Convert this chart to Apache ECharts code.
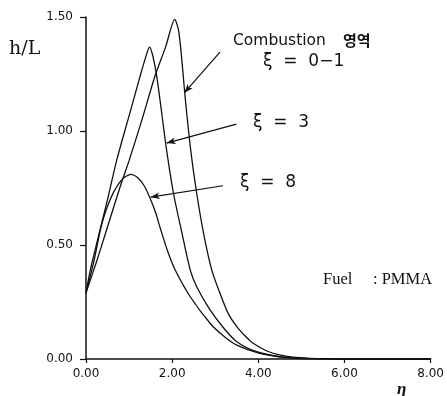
<!DOCTYPE html>
<html>
<head>
<meta charset="utf-8">
<script src="https://cdn.jsdelivr.net/npm/echarts@6/dist/echarts.min.js"></script>
<style>html,body{margin:0;padding:0;background:#fff}#c{width:447px;height:396px}</style>
</head>
<body>
<div id="c"></div>
<script>
// ---- data (eta, h/L) ----
const xTickLabels = ['0.00', '2.00', '4.00', '6.00', '8.00'];
const yTickLabels = ['0.00', '0.50', '1.00', '1.50'];

const eta01 = [0, 0.25, 0.5, 0.8, 1.0, 1.3, 1.6, 1.85, 2.06, 2.15, 2.23, 2.30, 2.43, 2.57, 2.73, 2.92, 3.11, 3.3, 3.5, 3.7, 3.88, 4.2, 4.49, 4.8, 5.2, 5.6, 6.0, 7.0, 8.0];
const hL01  = [0.29, 0.43, 0.58, 0.76, 0.87, 1.05, 1.24, 1.37, 1.49, 1.44, 1.30, 1.15, 0.917, 0.727, 0.55, 0.39, 0.288, 0.20, 0.142, 0.10, 0.069, 0.035, 0.018, 0.008, 0.003, 0.001, 0, 0, 0];

const eta3 = [0, 0.1, 0.24, 0.5, 0.71, 0.9, 1.05, 1.27, 1.42, 1.475, 1.55, 1.65, 1.75, 1.87, 2.03, 2.23, 2.42, 2.57, 2.88, 3.2, 3.5, 3.96, 4.5, 5.0, 5.6, 6.0, 7.0, 8.0];
const hL3  = [0.29, 0.39, 0.50, 0.70, 0.87, 1.00, 1.10, 1.25, 1.345, 1.368, 1.33, 1.23, 1.09, 0.917, 0.727, 0.55, 0.39, 0.317, 0.215, 0.135, 0.076, 0.032, 0.010, 0.003, 0.001, 0, 0, 0];

const eta8 = [0, 0.19, 0.35, 0.5, 0.65, 0.85, 1.04, 1.2, 1.35, 1.5, 1.62, 1.73, 1.9, 2.07, 2.42, 2.88, 3.2, 3.5, 4.03, 4.7, 5.3, 6.0, 7.0, 8.0];
const hL8  = [0.29, 0.434, 0.58, 0.67, 0.735, 0.79, 0.81, 0.795, 0.76, 0.70, 0.64, 0.57, 0.47, 0.39, 0.273, 0.157, 0.10, 0.061, 0.025, 0.005, 0.001, 0, 0, 0];

// leader arrows (data coordinates): [fromX, fromY, toX, toY]
const arrow01 = [3.11, 1.346, 2.28, 1.167];
const arrow3  = [3.49, 1.03, 1.87, 0.947];
const arrow8  = [3.18, 0.76, 1.50, 0.71];

function pairs(xs, ys) { return xs.map((x, i) => [x, ys[i]]); }

const chart = echarts.init(document.getElementById('c'), null, {renderer: 'canvas'});

const lineStyle = {color: '#111', width: 1.3};
function curve(name, xs, ys, extra) {
  return Object.assign({
    name: name, type: 'line', data: pairs(xs, ys),
    showSymbol: false, smooth: 0.25,
    lineStyle: lineStyle, silent: true, z: 3
  }, extra || {});
}
function arrowLine(a) {
  return [{coord: [a[0], a[1]], symbol: 'none'}, {coord: [a[2], a[3]], symbol: 'arrow', symbolSize: [5, 9]}];
}

chart.setOption({
  animation: false,
  backgroundColor: '#fff',
  grid: {left: 86, right: 14, top: 17, bottom: 37, containLabel: false},
  xAxis: {
    type: 'value', min: 0, max: 8, interval: 2,
    axisLine: {show: true, lineStyle: {color: '#111', width: 1.5}},
    axisTick: {show: true, length: 4, inside: false, lineStyle: {color: '#111', width: 1.2}},
    axisLabel: {margin: 9, color: '#111', fontFamily: 'DejaVu Sans', fontSize: 12,
      formatter: v => xTickLabels[Math.round(v / 2)]},
    splitLine: {show: false}
  },
  yAxis: {
    type: 'value', min: 0, max: 1.5, interval: 0.5,
    axisLine: {show: true, lineStyle: {color: '#111', width: 1.5}},
    axisTick: {show: true, length: 6, inside: false, lineStyle: {color: '#111', width: 1.2}},
    axisLabel: {margin: 13, color: '#111', fontFamily: 'DejaVu Sans', fontSize: 12,
      formatter: v => yTickLabels[Math.round(v / 0.5)]},
    splitLine: {show: false}
  },
  series: [
    curve('ξ = 0-1', eta01, hL01, {
      markLine: {silent: true, animation: false, label: {show: false},
        lineStyle: {color: '#111', width: 1.2, type: 'solid'},
        data: [arrowLine(arrow01), arrowLine(arrow3), arrowLine(arrow8)]}
    }),
    curve('ξ = 3', eta3, hL3),
    curve('ξ = 8', eta8, hL8)
  ],
  graphic: [
    {type: 'text', left: 9, top: 40, style: {text: 'h/L', font: '19px "DejaVu Serif"', fill: '#111'}},
    {type: 'text', left: 397, top: 381, style: {text: 'η', font: 'italic bold 17px "Liberation Serif"', fill: '#111'}},
    {type: 'text', left: 233, top: 33, style: {text: 'Combustion', font: '15.5px "DejaVu Sans"', fill: '#111'}},
    {type: 'text', left: 343, top: 33, style: {text: '영역', font: 'bold 15px "Noto Sans CJK KR"', fill: '#111'}},
    {type: 'text', left: 263, top: 53, style: {text: 'ξ  =  0−1', font: '17px "DejaVu Sans"', fill: '#111'}},
    {type: 'text', left: 253, top: 114, style: {text: 'ξ  =  3', font: '17px "DejaVu Sans"', fill: '#111'}},
    {type: 'text', left: 240, top: 174, style: {text: 'ξ  =  8', font: '17px "DejaVu Sans"', fill: '#111'}},
    {type: 'text', left: 323, top: 271, style: {text: 'Fuel     : PMMA', font: '16.5px "Liberation Serif"', fill: '#111'}}
  ]
});
</script>
</body>
</html>
